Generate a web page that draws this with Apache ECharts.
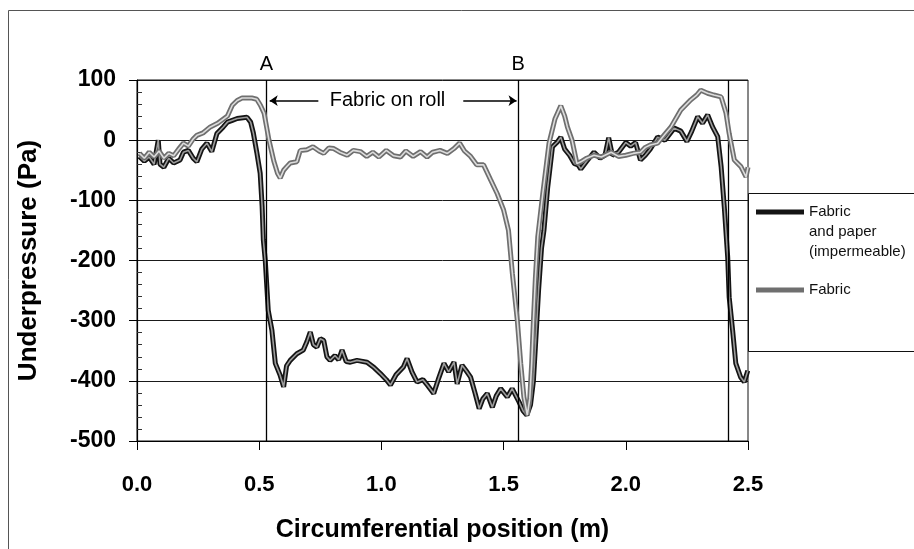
<!DOCTYPE html>
<html>
<head>
<meta charset="utf-8">
<script src="https://cdn.jsdelivr.net/npm/echarts@6/dist/echarts.min.js"></script>
<style>
  html, body { margin: 0; padding: 0; background: #fff; }
  #chart { width: 914px; height: 549px; }
</style>
</head>
<body>
<div id="chart"></div>
<script>
// Fabric and paper (impermeable) - dark curve
const paperX = [0.01, 0.03, 0.05, 0.07, 0.087, 0.094, 0.11, 0.13, 0.15, 0.176, 0.19, 0.21, 0.23, 0.245, 0.265, 0.286, 0.306, 0.327, 0.353, 0.37, 0.39, 0.41, 0.45, 0.465, 0.476, 0.49, 0.504, 0.512, 0.517, 0.525, 0.537, 0.552, 0.566, 0.585, 0.6, 0.612, 0.627, 0.654, 0.68, 0.695, 0.709, 0.722, 0.736, 0.75, 0.764, 0.777, 0.79, 0.81, 0.825, 0.839, 0.856, 0.873, 0.9, 0.941, 0.97, 0.996, 1.02, 1.037, 1.06, 1.09, 1.105, 1.125, 1.146, 1.17, 1.19, 1.214, 1.235, 1.256, 1.275, 1.297, 1.31, 1.33, 1.35, 1.365, 1.383, 1.4, 1.415, 1.433, 1.454, 1.47, 1.488, 1.515, 1.535, 1.563, 1.58, 1.595, 1.61, 1.622, 1.632, 1.643, 1.655, 1.665, 1.68, 1.7, 1.72, 1.734, 1.75, 1.77, 1.79, 1.805, 1.816, 1.84, 1.87, 1.895, 1.915, 1.93, 1.945, 1.97, 2.0, 2.02, 2.04, 2.06, 2.08, 2.1, 2.13, 2.16, 2.198, 2.225, 2.25, 2.27, 2.294, 2.314, 2.335, 2.355, 2.376, 2.39, 2.403, 2.417, 2.423, 2.437, 2.45, 2.47, 2.485, 2.499];
const paperY = [-27, -35, -28, -40, 0, -40, -45, -30, -38, -33, -20, -17, -30, -36, -15, -5, -19, 11, 22, 30, 33, 36, 38, 30, 12, -20, -55, -110, -166, -201, -283, -316, -371, -390, -410, -375, -366, -355, -349, -335, -319, -340, -344, -330, -333, -360, -366, -358, -365, -349, -368, -369, -366, -369, -378, -388, -398, -407, -390, -377, -363, -385, -402, -398, -408, -421, -395, -371, -385, -369, -405, -374, -385, -394, -420, -446, -430, -421, -444, -425, -413, -427, -413, -435, -450, -457, -440, -400, -330, -250, -180, -150, -80, -11, -3, 5, -15, -25, -39, -41, -48, -35, -20, -30, -25, 4, -25, -20, -4, -10, -4, -33, -25, -15, 5, 0, 20, 15, -2, 15, 39, 28, 42, 22, 6, -44, -111, -195, -261, -316, -371, -394, -402, -383];

// Fabric - grey curve
const fabricX = [0.01, 0.03, 0.05, 0.07, 0.09, 0.11, 0.13, 0.15, 0.17, 0.19, 0.21, 0.23, 0.245, 0.27, 0.3, 0.33, 0.37, 0.39, 0.41, 0.43, 0.47, 0.49, 0.505, 0.52, 0.54, 0.56, 0.575, 0.586, 0.6, 0.613, 0.627, 0.654, 0.668, 0.695, 0.72, 0.745, 0.764, 0.785, 0.805, 0.83, 0.86, 0.885, 0.914, 0.94, 0.965, 0.99, 1.02, 1.05, 1.078, 1.1, 1.13, 1.16, 1.187, 1.21, 1.24, 1.27, 1.297, 1.32, 1.34, 1.365, 1.39, 1.418, 1.447, 1.474, 1.5, 1.52, 1.536, 1.556, 1.57, 1.583, 1.597, 1.607, 1.615, 1.622, 1.63, 1.64, 1.66, 1.686, 1.71, 1.734, 1.75, 1.761, 1.78, 1.8, 1.816, 1.84, 1.87, 1.9, 1.94, 1.97, 2.0, 2.03, 2.06, 2.08, 2.1, 2.13, 2.16, 2.185, 2.225, 2.266, 2.29, 2.307, 2.335, 2.36, 2.39, 2.41, 2.423, 2.444, 2.471, 2.492, 2.5];
const fabricY = [-22, -30, -20, -28, -18, -30, -22, -26, -15, -5, -10, 2, 8, 12, 22, 28, 40, 58, 66, 70, 70, 68, 58, 45, 0, -35, -55, -63, -50, -44, -38, -36, -17, -16, -11, -18, -22, -13, -14, -20, -25, -17, -19, -27, -20, -28, -17, -26, -28, -18, -27, -19, -28, -20, -17, -22, -14, -5, -18, -27, -41, -41, -66, -89, -116, -150, -222, -299, -371, -427, -457, -430, -370, -300, -230, -160, -90, -5, 35, 57, 40, 22, 0, -39, -36, -30, -25, -28, -20, -27, -25, -22, -20, -12, -8, -5, 10, 22, 50, 67, 75, 83, 78, 75, 72, 45, 11, -33, -44, -61, -45];

// vertical reference lines and their labels
const markerX = [0.534, 1.56, 2.42];
const markerText = ['A', 'B', ''];

const paperName = 'Fabric and paper (impermeable)';
const fabricName = 'Fabric';

const zip = (xs, ys) => xs.map((x, i) => [x, ys[i]]);
const paperData = zip(paperX, paperY);
const fabricData = zip(fabricX, fabricY);

const fontBase = '"Liberation Sans", Arial, Helvetica, sans-serif';

// legend icon: a bar near the top of a 60px tall box, so that it lines up
// with the first line of the three-line legend text
const tallLineIcon = 'path://M0,0h0.05v0.05h-0.05z M0,7.5h48v5h-48z M0,59.95h0.05v0.05h-0.05z';
const lineIcon = 'path://M0,0h48v5h-48z';

const chart = echarts.init(document.getElementById('chart'));

const option = {
  backgroundColor: '#fff',
  animation: false,
  textStyle: { fontFamily: fontBase, color: '#000' },
  grid: {
    left: 137, right: 166, top: 80, bottom: 108,
    show: true, borderColor: '#111', borderWidth: 1
  },
  legend: [{
    orient: 'vertical', left: 756, top: 202, padding: 0,
    itemWidth: 48, itemHeight: 60, itemGap: 0,
    icon: tallLineIcon,
    data: [paperName],
    formatter: () => 'Fabric\nand paper\n(impermeable)',
    textStyle: { fontSize: 15, lineHeight: 20, color: '#111', fontFamily: fontBase }
  }, {
    orient: 'vertical', left: 756, top: 280, padding: 0,
    itemWidth: 48, itemHeight: 5,
    icon: lineIcon,
    data: [fabricName],
    textStyle: { fontSize: 15, lineHeight: 20, color: '#111', fontFamily: fontBase }
  }],
  xAxis: {
    type: 'value', min: 0, max: 2.5, interval: 0.5,
    name: 'Circumferential position (m)',
    nameLocation: 'middle', nameGap: 77,
    nameTextStyle: { fontSize: 25, fontWeight: 'bold', color: '#000' },
    axisLine: { show: true, onZero: false, lineStyle: { color: '#000', width: 1.2 } },
    axisTick: { show: true, length: 9, lineStyle: { color: '#000' } },
    axisLabel: {
      fontSize: 22, fontWeight: 'bold', color: '#000', margin: 33,
      formatter: v => v.toFixed(1)
    },
    splitLine: { show: false }
  },
  yAxis: [{
    type: 'value', min: -500, max: 100, interval: 100,
    name: 'Underpressure (Pa)',
    nameLocation: 'middle', nameGap: 95, nameRotate: 90,
    nameTextStyle: { fontSize: 26, fontWeight: 'bold', color: '#000' },
    axisLine: { show: true, lineStyle: { color: '#000', width: 1.2 } },
    axisTick: { show: true, length: 8, lineStyle: { color: '#000' } },
    axisLabel: { fontSize: 23, fontWeight: 'bold', color: '#000', margin: 21 },
    splitLine: { show: true, lineStyle: { color: '#1a1a1a', width: 1 } }
  }, {
    type: 'value', min: -500, max: 100, interval: 100, position: 'left',
    axisLine: { show: false },
    axisTick: { show: true, inside: true, length: 0 },
    minorTick: { show: true, splitNumber: 5, length: 5, lineStyle: { color: '#333' } },
    axisLabel: { show: false },
    splitLine: { show: false }
  }],
  series: [{
    name: paperName, type: 'line', data: paperData,
    symbol: 'none', z: 3,
    lineStyle: { color: '#141414', width: 5 },
    itemStyle: { color: '#141414' },
    markLine: {
      silent: true, symbol: 'none', animation: false,
      lineStyle: { color: '#000', width: 1.3, type: 'solid' },
      label: { show: true, position: 'end', distance: 6, fontSize: 20, color: '#000', fontFamily: fontBase },
      data: markerX.map((x, i) => ({ xAxis: x, label: { formatter: markerText[i] } }))
    }
  }, {
    name: 'paperCore', type: 'line', data: paperData,
    symbol: 'none', z: 4, silent: true,
    lineStyle: { color: '#9c9c9c', width: 1.6 }
  }, {
    name: fabricName, type: 'line', data: fabricData,
    symbol: 'none', z: 5,
    lineStyle: { color: '#6f6f6f', width: 5 },
    itemStyle: { color: '#6f6f6f' },
    markLine: {
      silent: true, animation: false, symbolSize: 8,
      lineStyle: { color: '#000', width: 1.5, type: 'solid' },
      label: { show: false },
      data: [
        [{ coord: [0.543, 65.6], symbol: 'arrow' }, { coord: [0.742, 65.6], symbol: 'none' }],
        [{ coord: [1.335, 65.6], symbol: 'none' }, { coord: [1.553, 65.6], symbol: 'arrow' }]
      ]
    },
    markPoint: {
      silent: true, symbol: 'circle', symbolSize: 0,
      label: { show: true, position: 'inside', fontSize: 20, color: '#000', fontFamily: fontBase, formatter: 'Fabric on roll' },
      data: [{ coord: [1.025, 65.6] }]
    }
  }, {
    name: 'fabricCore', type: 'line', data: fabricData,
    symbol: 'none', z: 6, silent: true,
    lineStyle: { color: '#dcdcdc', width: 1.6 }
  }],
  graphic: [{
    type: 'polyline', silent: true,
    shape: { points: [[8.5, 549], [8.5, 10.5], [914, 10.5]] },
    style: { stroke: '#555', lineWidth: 1, fill: null }
  }, {
    type: 'rect', silent: true,
    shape: { x: 748.5, y: 193.5, width: 200, height: 158 },
    style: { stroke: '#111', lineWidth: 1, fill: null }
  }]
};

chart.setOption(option);
</script>
</body>
</html>
